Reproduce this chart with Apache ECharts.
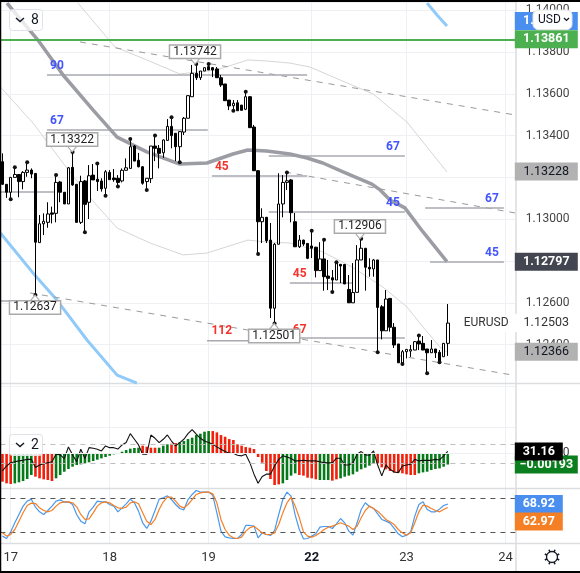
<!DOCTYPE html>
<html><head><meta charset="utf-8"><style>html,body{margin:0;padding:0;background:#fff}#c{width:580px;height:573px}</style>
<script src="https://cdn.jsdelivr.net/npm/echarts@6/dist/echarts.min.js"></script></head><body><div id="c"></div><script>
const BAR_SLOTS = 125;
const dayTicks = [2, 26, 50, 75, 98, 122];
const dayLabels = ['17', '18', '19', '22', '23', '24'];
const opens = [
1.13275,1.13167,1.13129,1.13200,1.13214,1.13180,1.13224,1.13235,1.13219,1.12888,
1.12978,1.12985,1.13030,1.13028,1.13178,1.13129,1.13073,1.13248,1.13167,1.12985,
1.13183,1.13081,1.13211,1.13191,1.13183,1.13148,1.13224,1.13197,1.13196,1.13183,
1.13234,1.13243,1.13350,1.13282,1.13251,1.13180,1.13194,1.13350,1.13339,1.13318,
1.13377,1.13444,1.13411,1.13347,1.13417,1.13483,1.13586,1.13698,1.13677,1.13709,
1.13730,1.13725,1.13719,1.13677,1.13647,1.13570,1.13543,1.13557,1.13546,1.13526,
1.13586,1.13441,1.13232,1.12988,1.13009,1.12900,1.12574,1.12880,1.13073,1.13176,
1.13188,1.12988,1.12868,1.12900,1.12884,1.12872,1.12866,1.12754,1.12810,1.12728,
1.12720,1.12709,1.12784,1.12783,1.12664,1.12600,1.12650,1.12805,1.12861,1.12770,
1.12762,1.12805,1.12581,1.12466,1.12621,1.12483,1.12403,1.12310,1.12366,1.12369,
1.12374,1.12417,1.12406,1.12379,1.12361,1.12379,1.12363,1.12342,1.12406];
const closes = [
1.13167,1.13129,1.13200,1.13214,1.13180,1.13224,1.13235,1.13216,1.12890,1.12978,
1.12990,1.13025,1.13024,1.13176,1.13129,1.13073,1.13246,1.13164,1.12985,1.13180,
1.13071,1.13208,1.13188,1.13180,1.13145,1.13227,1.13189,1.13189,1.13176,1.13234,
1.13246,1.13347,1.13278,1.13251,1.13172,1.13196,1.13350,1.13339,1.13315,1.13379,
1.13444,1.13400,1.13347,1.13419,1.13483,1.13591,1.13698,1.13677,1.13709,1.13725,
1.13714,1.13714,1.13677,1.13642,1.13567,1.13542,1.13555,1.13519,1.13521,1.13586,
1.13438,1.13232,1.12988,1.13009,1.12897,1.12574,1.12880,1.13073,1.13176,1.13184,
1.13031,1.12868,1.12900,1.12881,1.12813,1.12861,1.12754,1.12810,1.12725,1.12717,
1.12709,1.12790,1.12776,1.12690,1.12600,1.12649,1.12805,1.12861,1.12770,1.12762,
1.12805,1.12578,1.12466,1.12618,1.12483,1.12398,1.12313,1.12366,1.12377,1.12376,
1.12414,1.12403,1.12374,1.12361,1.12379,1.12361,1.12318,1.12406,1.12503];
const highs = [
1.13315,1.13168,1.13202,1.13248,1.13216,1.13230,1.13272,1.13243,1.13221,1.13020,
1.13028,1.13081,1.13060,1.13211,1.13183,1.13130,1.13250,1.13322,1.13168,1.13208,
1.13188,1.13259,1.13264,1.13267,1.13196,1.13235,1.13235,1.13240,1.13211,1.13243,
1.13291,1.13384,1.13355,1.13317,1.13254,1.13197,1.13350,1.13400,1.13355,1.13382,
1.13479,1.13488,1.13412,1.13422,1.13489,1.13594,1.13738,1.13742,1.13709,1.13725,
1.13742,1.13728,1.13728,1.13690,1.13647,1.13570,1.13570,1.13570,1.13546,1.13610,
1.13589,1.13451,1.13235,1.13052,1.13011,1.12982,1.12886,1.13220,1.13211,1.13224,
1.13192,1.13030,1.12924,1.12902,1.12886,1.12945,1.12868,1.12890,1.12902,1.12805,
1.12757,1.12794,1.12786,1.12786,1.12733,1.12790,1.12876,1.12906,1.12862,1.12813,
1.12810,1.12805,1.12589,1.12661,1.12623,1.12503,1.12403,1.12374,1.12379,1.12398,
1.12417,1.12444,1.12441,1.12379,1.12422,1.12379,1.12374,1.12408,1.12594];
const lows = [
1.13164,1.13102,1.13095,1.13200,1.13105,1.13143,1.13203,1.13196,1.12637,1.12888,
1.12924,1.12959,1.12980,1.12985,1.13081,1.13073,1.13073,1.13160,1.12982,1.12977,
1.12937,1.13001,1.13188,1.13135,1.13132,1.13112,1.13189,1.13179,1.13157,1.13176,
1.13234,1.13243,1.13278,1.13248,1.13165,1.13140,1.13173,1.13278,1.13243,1.13294,
1.13377,1.13339,1.13278,1.13273,1.13403,1.13483,1.13586,1.13666,1.13666,1.13709,
1.13714,1.13680,1.13677,1.13633,1.13567,1.13522,1.13519,1.13519,1.13521,1.13522,
1.13438,1.13232,1.12833,1.12886,1.12886,1.12527,1.12501,1.12880,1.13009,1.13140,
1.12985,1.12868,1.12862,1.12872,1.12809,1.12814,1.12722,1.12754,1.12658,1.12661,
1.12652,1.12709,1.12695,1.12690,1.12600,1.12600,1.12650,1.12805,1.12658,1.12725,
1.12725,1.12363,1.12425,1.12466,1.12462,1.12384,1.12313,1.12307,1.12334,1.12341,
1.12374,1.12374,1.12374,1.12263,1.12361,1.12336,1.12315,1.12342,1.12346];
const swingHighs = [3,6,13,17,23,31,37,41,47,50,59,69,75,78,81,87,101];
const swingLows = [2,8,20,25,28,35,43,56,62,66,80,91,97,103,106];
const histValues = [
-0.00480,-0.00508,-0.00519,-0.00508,-0.00491,-0.00469,-0.00435,-0.00368,-0.00396,-0.00424,
-0.00441,-0.00452,-0.00469,-0.00424,-0.00368,-0.00313,-0.00268,-0.00229,-0.00201,-0.00190,
-0.00173,-0.00156,-0.00134,-0.00112,-0.00089,-0.00067,-0.00045,-0.00022,-0.00011,0.00022,
0.00050,0.00073,0.00084,0.00089,0.00123,0.00106,0.00089,0.00089,0.00089,0.00123,
0.00145,0.00156,0.00167,0.00179,0.00201,0.00234,0.00257,0.00301,0.00324,0.00357,
0.00368,0.00368,0.00346,0.00301,0.00273,0.00234,0.00218,0.00145,0.00123,0.00100,
0.00089,0.00067,-0.00067,-0.00162,-0.00301,-0.00435,-0.00536,-0.00525,-0.00508,-0.00452,
-0.00379,-0.00340,-0.00368,-0.00379,-0.00413,-0.00424,-0.00441,-0.00452,-0.00452,-0.00452,
-0.00463,-0.00441,-0.00424,-0.00396,-0.00379,-0.00357,-0.00313,-0.00273,-0.00246,-0.00212,
-0.00173,-0.00173,-0.00240,-0.00273,-0.00301,-0.00329,-0.00329,-0.00340,-0.00357,-0.00368,
-0.00368,-0.00340,-0.00324,-0.00313,-0.00285,-0.00268,-0.00257,-0.00229,-0.00193];
const histRedRuns = [[0,2],[8,12],[34,37],[41,42],[51,67],[72,76],[80,81],[91,100]];
const trendLine = [
21.2,23.7,25.4,25.9,26.3,26.6,27.1,27.1,22.9,24.2,
24.9,25.4,25.9,29.7,29.4,27.5,33.5,29.4,25.9,32.3,
27.5,33.1,32.8,32.3,31.4,34,33.1,33.1,32.4,34.5,
35.7,40.3,37.4,34.5,29.7,29.7,39.6,37.9,35.7,37.4,
39.6,36.5,34,35.7,37.4,40.3,42.4,40,37.9,36.5,
35.7,34.8,33.5,32.3,31.1,30.2,30.2,29.2,28.9,29.7,
25.4,19.5,14.8,18.3,19.5,19.5,23.7,27.1,28.9,28.3,
27.5,26.3,26.3,26.6,26.3,26.3,26.3,25.9,25.4,25.3,
25.3,27.7,27.7,24.2,24.2,25.4,29.7,31.1,29.4,29.2,
31.4,24.2,18.6,24.2,22,20.6,20.3,23.7,24.2,24.6,
27.1,26.3,26.6,26.6,26.6,27.1,26.8,28.9,31.16];
const stochK = [
12.4,8.2,20,35.9,50.6,65.3,74.1,77.6,63.5,55.3,
50.6,57.6,65.3,74.1,76.4,72.3,72.9,68.2,50.6,38.8,
34.1,55.3,63.5,74.1,72.9,72.9,68.2,65.3,55.3,62.3,
69.4,77.6,71.2,56.5,35.9,25.9,38.8,57.6,77.6,80,
83.5,77,68.2,61.2,58.8,77,85.9,92.9,90,90,
90,84.7,53.5,21.2,11.2,9.4,8.2,8.2,15.3,31.2,
31.2,30,9.4,18.2,15.3,13.5,22.4,50.6,77,90,
82.9,49.4,24.1,7.7,8.2,12.4,16.5,28.2,29.4,29.4,
25.9,34.1,43.5,35.9,21.2,14.1,35.9,59.4,71.2,64.7,
61.2,51.8,41.8,38.8,35.3,25.9,16.5,11.2,14.1,20,
47.6,68.2,72.9,59.4,55.3,55.3,60,66.5,68.92];
const stochD = [
18.2,12.4,15.3,24.1,38.8,53.5,66.5,70.6,70,62.3,
57.6,55.3,57.6,65.3,71.2,72.9,72.9,71.2,64.1,50.6,
41.8,42.9,53.5,65.3,71.2,72.9,71.2,66.5,62.3,61.2,
63.5,71.2,72.9,69.4,53.5,38.8,32.9,41.8,59.4,72.9,
81.2,81.2,74.1,65.3,62.3,68.2,77,85.9,88.8,90,
90,87,71.2,41.8,24.1,14.1,9.4,8.2,10.6,21.2,
27.1,30,24.1,18.2,15.3,15.3,18.2,32.9,53.5,71.2,
81.2,65.3,44.7,20,12.4,10.6,13.5,18.2,24.1,28.2,
30,32.9,35.9,32.9,30,24.1,30,44.7,57.6,65.3,
61.2,56.5,49.4,41.8,37.6,32.9,24.1,18.2,14.1,18.2,
35.9,55.3,67,65.3,61.2,57.6,55.3,59.4,62.97];
const maHeavy = [[1.1,1.14034],[8.6,1.13857],[14.7,1.13690],[22,1.13522],[27.8,1.13393],[35,1.13322],[43,1.13264],[49.6,1.13269],[55.9,1.13312],[59.5,1.13331],[64.1,1.13326],[69.7,1.13312],[73.9,1.13293],[77.7,1.13269],[82.6,1.13226],[89.6,1.13168],[91.6,1.13140],[94,1.13092],[97.6,1.13054],[102,1.12939],[107.8,1.12797]];
const bandUpper = [[18.3,1.14034],[27.3,1.13824],[35,1.13762],[43,1.13695],[52,1.13714],[59.5,1.13762],[64.1,1.13757],[69.7,1.13747],[74.6,1.13728],[81.9,1.13666],[89.9,1.13599],[98.1,1.13465],[107.8,1.13226]];
const bandLower = [[-0.5,1.13633],[7.4,1.13460],[15.6,1.13245],[21.7,1.13092],[27.8,1.12958],[35.8,1.12886],[43.8,1.12829],[49.6,1.12838],[59.5,1.12900],[64.1,1.12891],[69.7,1.12886],[77.7,1.12843],[84.8,1.12771],[92.3,1.12675],[98.1,1.12580],[102,1.12484],[106.1,1.12388],[107.8,1.12364]];
const longMaLow = [[-0.5,1.12934],[7.4,1.12743],[13.2,1.12613],[20.5,1.12422],[27.8,1.12254],[32.6,1.12216]];
const longMaHigh = [[103,1.14034],[105.4,1.13977],[107.8,1.13924]];
const dashedTrends = [[[18.8,1.13848],[124.3,1.13499]],[[68.5,1.13226],[124.3,1.13030]],[[6.7,1.12647],[123.8,1.12254]]];
const levelSegments = [[10.8,73.9,1.13690],[10.8,49.8,1.13427],[50.8,73.9,1.13207],[64.6,97.6,1.13302],[64.6,97.6,1.13034],[102.5,121.6,1.13054],[103.7,121.6,1.12795],[69.7,84.8,1.12695],[49.6,72.1,1.12419],[69.7,97.6,1.12431],[-0.5,12.7,1.13130],[-0.5,1.8,1.12609]];
const bullTexts = [[13.2,1.13733,'90'],[13.2,1.13470,'67'],[94.7,1.13345,'67'],[94.7,1.13077,'45'],[118.7,1.13097,'67'],[118.7,1.12838,'45']];
const bearTexts = [[53.2,1.13250,'45'],[72.1,1.12738,'45'],[72.1,1.12470,'67'],[53.2,1.12465,'112']];
const peaksAbove = [[46.7,1.13742,'1.13742'],[16.9,1.13322,'1.13322'],[86.7,1.12906,'1.12906']];
const troughsBelow = [[7.9,1.12637,'1.12637'],[65.9,1.12501,'1.12501']];
const symbolName = [[117.3,1.12503,'EURUSD']];

const categories = Array.from({length:BAR_SLOTS},(_,i)=>{const k=dayTicks.indexOf(i);return k<0?'':dayLabels[k];});
const FONT='Roboto';
const GRID='#eef0f3', SEP='#dcdde0', SEG='#a9a9b2';
const isRed=i=>histRedRuns.some(r=>i>=r[0]&&i<=r[1]);
const tag=(text,bg,color,extra)=>{
 const e=extra||{};
 const l={show:true,position:'end',distance:-1,formatter:'{t|'+text+'}',
  rich:{t:{width:e.width||63,height:18,lineHeight:18,align:'center',backgroundColor:bg,color:color,fontFamily:FONT,fontSize:12.5,fontWeight:color==='#fff'?'bold':'normal'}}};
 if(e.offset) l.offset=e.offset;
 return l;
};
const noLine={width:0,color:'rgba(0,0,0,0)'};
const vSplit={show:true,alignWithLabel:true,interval:(i)=>dayTicks.includes(i),lineStyle:{color:GRID,width:1}};
function catAxis(g,extra){return Object.assign({type:'category',gridIndex:g,data:categories,boundaryGap:true,axisLine:{show:false},axisTick:{show:false},axisLabel:{show:false},splitLine:vSplit},extra||{});}
const pxGrid=(top,h)=>({left:0.4,width:515.4,top:top,height:h,containLabel:false});

const graphic=[];
const gl=(x1,y1,x2,y2,stroke,w,z)=>graphic.push({type:'line',shape:{x1,y1,x2,y2},style:{stroke,lineWidth:w},z:z||1,silent:true});
gl(0,383.5,580,383.5,SEP,1.5); gl(0,427.5,516,427.5,GRID,1); gl(0,488.5,580,488.5,SEP,1.5); gl(0,543.5,580,543.5,SEP,1.5);
gl(516,0,516,573,SEP,1.5);
gl(0,1,580,1,'#000',2,200); gl(0.5,0,0.5,573,'#000',1.5,200); gl(0,572,580,572,'#000',2,200);
function chip(y,txt){
 graphic.push({type:'rect',shape:{x:9.5,y:y,width:33,height:21,r:3},style:{fill:'rgba(255,255,255,0.78)',stroke:'#dfe1e6',lineWidth:1},z:100,silent:true});
 graphic.push({type:'polyline',shape:{points:[[16,y+8.5],[20,y+12],[24,y+8.5]]},style:{stroke:'#131722',fill:null,lineWidth:1.4},z:101,silent:true});
 graphic.push({type:'text',style:{text:txt,x:31,y:y+4,fontFamily:FONT,fontSize:14,fill:'#131722'},z:101,silent:true});
}
chip(9.5,'8'); chip(434.5,'2');
graphic.push({type:'rect',shape:{x:533,y:10,width:39,height:19.5,r:5},style:{fill:'#fff',stroke:'#e3e4e8',lineWidth:1},z:100,silent:true});
graphic.push({type:'text',style:{text:'USD',x:538,y:13.5,fontFamily:FONT,fontSize:12,fill:'#131722'},z:101,silent:true});
graphic.push({type:'polyline',shape:{points:[[564,18],[566.5,20.5],[569,18]]},style:{stroke:'#131722',fill:null,lineWidth:1.2},z:101,silent:true});
const gx=552,gy=557;
graphic.push({type:'circle',shape:{cx:gx,cy:gy,r:5.5},style:{fill:'#fff',stroke:'#131722',lineWidth:1.3},z:101,silent:true});
for(let a=0;a<8;a++){const t=a*Math.PI/4+Math.PI/8;gl(gx+5.5*Math.cos(t),gy+5.5*Math.sin(t),gx+7.8*Math.cos(t),gy+7.8*Math.sin(t),'#131722',1.6,101);}

const ovl={xAxisIndex:4,yAxisIndex:0,silent:true};
const lineOn=(data,color,width,extra)=>Object.assign({type:'line',data,symbol:'none',lineStyle:{color,width},z:3,animation:false},ovl,extra||{});
const flat={itemStyle:{opacity:1}};
const series=[
 lineOn(bandUpper,'#d6d6d6',1),
 lineOn(bandLower,'#d6d6d6',1),
 lineOn(longMaLow,'#90caf9',3),
 lineOn(longMaHigh,'#90caf9',3),
 ...dashedTrends.map(d=>lineOn(d,'#9a9a9a',1,{lineStyle:{color:'#9a9a9a',width:1,type:[6,6]}})),
 ...levelSegments.map(s=>lineOn([[s[0],s[2]],[s[1],s[2]]],SEG,1.5)),
 lineOn(maHeavy,'#9c9ca4',3.5),
 {type:'candlestick',xAxisIndex:0,yAxisIndex:0,barWidth:3,z:4,silent:true,
  data:opens.map((o,i)=>[o,closes[i],lows[i],highs[i]]),
  itemStyle:{color:'#fff',color0:'#000',borderColor:'#000',borderColor0:'#000',borderWidth:1},
  markLine:{silent:true,symbol:'none',animation:false,precision:5,label:{show:false},z:5,data:[
   {yAxis:1.13948,lineStyle:noLine,label:tag('1.13948','#4a8ff0','#fff')},
   {yAxis:1.13861,lineStyle:{color:'#4caf50',width:2,type:'solid'},label:tag('1.13861','#4caf50','#fff')},
   {yAxis:1.13228,lineStyle:noLine,label:tag('1.13228','#b2b2b2','#131722')},
   {yAxis:1.12797,lineStyle:noLine,label:tag('1.12797','#434651','#fff')},
   {yAxis:1.12503,lineStyle:noLine,label:tag('1.12503','#fff','#333')},
   {yAxis:1.12366,lineStyle:noLine,label:tag('1.12366','#b2b2b2','#131722')}
  ]}},
 {type:'scatter',xAxisIndex:0,yAxisIndex:0,symbol:'circle',symbolSize:4,z:5,silent:true,itemStyle:{color:'#111',opacity:1},
  data:swingHighs.map(i=>[i,highs[i]]).concat(swingLows.map(i=>[i,lows[i]]))},
 {type:'scatter',...ovl,...flat,symbolSize:0,z:6,data:bullTexts.map(t=>({value:[t[0],t[1]],name:t[2]})),
  label:{show:true,opacity:1,position:'inside',formatter:'{b}',color:'#4255ff',fontFamily:FONT,fontWeight:'bold',fontSize:12}},
 {type:'scatter',...ovl,...flat,symbolSize:0,z:6,data:bearTexts.map(t=>({value:[t[0],t[1]],name:t[2]})),
  label:{show:true,opacity:1,position:'inside',formatter:'{b}',color:'#f4332c',fontFamily:FONT,fontWeight:'bold',fontSize:12}},
 {type:'scatter',...ovl,symbol:'path://M0 0L5 6L10 0Z',symbolSize:[10,6],symbolOffset:[0,-3],z:7,
  itemStyle:{color:'#fff',borderColor:'#aaa',borderWidth:1,opacity:1},data:peaksAbove.map(t=>({value:[t[0],t[1]],name:t[2]})),
  label:{show:true,opacity:1,position:'top',distance:0,formatter:'{b}',color:'#222',fontFamily:FONT,fontSize:12,backgroundColor:'#fff',borderColor:'#aaa',borderWidth:1.5,padding:[0,3]}},
 {type:'scatter',...ovl,symbol:'path://M0 6L5 0L10 6Z',symbolSize:[10,6],symbolOffset:[0,3],z:7,
  itemStyle:{color:'#fff',borderColor:'#aaa',borderWidth:1,opacity:1},data:troughsBelow.map(t=>({value:[t[0],t[1]],name:t[2]})),
  label:{show:true,opacity:1,position:'bottom',distance:0,formatter:'{b}',color:'#222',fontFamily:FONT,fontSize:12,backgroundColor:'#fff',borderColor:'#aaa',borderWidth:1.5,padding:[0,3]}},
 {type:'scatter',...ovl,...flat,symbolSize:0,z:6,data:symbolName.map(t=>({value:[t[0],t[1]],name:t[2]})),
  label:{show:true,opacity:1,position:'inside',formatter:'{b}',color:'#333',fontFamily:FONT,fontSize:12,backgroundColor:'#fff',padding:[3,4]}},
 {type:'bar',xAxisIndex:1,yAxisIndex:1,barWidth:2.6,z:3,silent:true,
  data:histValues.map((v,i)=>({value:v,itemStyle:{color:isRed(i)?'#f2200a':'#067a18'}})),
  markLine:{silent:true,symbol:'none',animation:false,precision:5,label:{show:false},z:5,data:[
   {yAxis:0,lineStyle:{color:GRID,width:1,type:'solid'},label:{show:true,position:'end',distance:10,formatter:'0.00000',color:'#333',fontFamily:FONT,fontSize:12}},
   {yAxis:-0.00193,lineStyle:noLine,label:tag('\u22120.00193','#0b7f1f','#fff')}
  ]}},
 {type:'line',xAxisIndex:1,yAxisIndex:2,data:trendLine,symbol:'none',lineStyle:{color:'#111',width:1.1},z:4,silent:true,
  markLine:{silent:true,symbol:'none',animation:false,precision:2,label:{show:false},z:6,data:[
   {yAxis:35,lineStyle:{color:'#bdbdbd',width:1,type:[5,5]}},
   {yAxis:25,lineStyle:{color:'#bdbdbd',width:1,type:[5,5]}},
   {yAxis:31.16,lineStyle:noLine,label:tag('31.16','#000','#fff',{width:48})}
  ]}},
 {type:'line',xAxisIndex:2,yAxisIndex:3,data:stochK,symbol:'none',lineStyle:{color:'#4a98ee',width:1.2},z:4,silent:true,
  markLine:{silent:true,symbol:'none',animation:false,precision:2,label:{show:false},z:5,data:[
   {yAxis:80,lineStyle:{color:'#555',width:1,type:[5,5]}},
   {yAxis:20,lineStyle:{color:'#555',width:1,type:[5,5]}},
   {yAxis:68.92,lineStyle:noLine,label:tag('68.92','#4a8ff0','#fff',{width:48})}
  ]}},
 {type:'line',xAxisIndex:2,yAxisIndex:3,data:stochD,symbol:'none',lineStyle:{color:'#f57f25',width:1.2},z:5,silent:true,
  markLine:{silent:true,symbol:'none',animation:false,precision:2,label:{show:false},z:5,data:[
   {yAxis:62.97,lineStyle:noLine,label:tag('62.97','#f57f25','#fff',{width:48,offset:[0,14]})}
  ]}}
];
const chart=echarts.init(document.getElementById('c'),null,{renderer:'canvas'});
chart.setOption({
 animation:false,backgroundColor:'#fff',textStyle:{fontFamily:FONT},
 grid:[pxGrid(1.84,384.56),pxGrid(427,61),pxGrid(488,55.5),pxGrid(386.4,40.6)],
 xAxis:[
  catAxis(0),catAxis(1),
  catAxis(2,{axisLabel:{show:true,interval:(i)=>dayTicks.includes(i),margin:8,fontFamily:FONT,fontSize:13,color:'#333',
    formatter:v=>v==='22'?'{b|22}':v,rich:{b:{fontWeight:'bold',fontSize:13,color:'#131722',fontFamily:FONT}}}}),
  catAxis(3),
  {type:'value',gridIndex:0,min:-0.5,max:124.5,show:false}
 ],
 yAxis:[
  {type:'value',gridIndex:0,position:'right',min:1.122,max:1.1404,interval:0.002,scale:true,axisLine:{show:false},axisTick:{show:false},
   axisLabel:{showMinLabel:false,showMaxLabel:false,margin:10,padding:[3,0,0,0],fontFamily:FONT,fontSize:12,color:'#444',formatter:v=>v.toFixed(5)},splitLine:{lineStyle:{color:GRID,width:1}}},
  {type:'value',gridIndex:1,min:-0.00586,max:0.00436,show:false,splitLine:{show:false}},
  {type:'value',gridIndex:1,min:12.4,max:43.7,show:false,splitLine:{show:false}},
  {type:'value',gridIndex:2,min:-0.6,max:97.3,show:false,splitLine:{show:false}},
  {type:'value',gridIndex:3,show:false,splitLine:{show:false}}
 ],
 series,graphic
});
</script></body></html>
